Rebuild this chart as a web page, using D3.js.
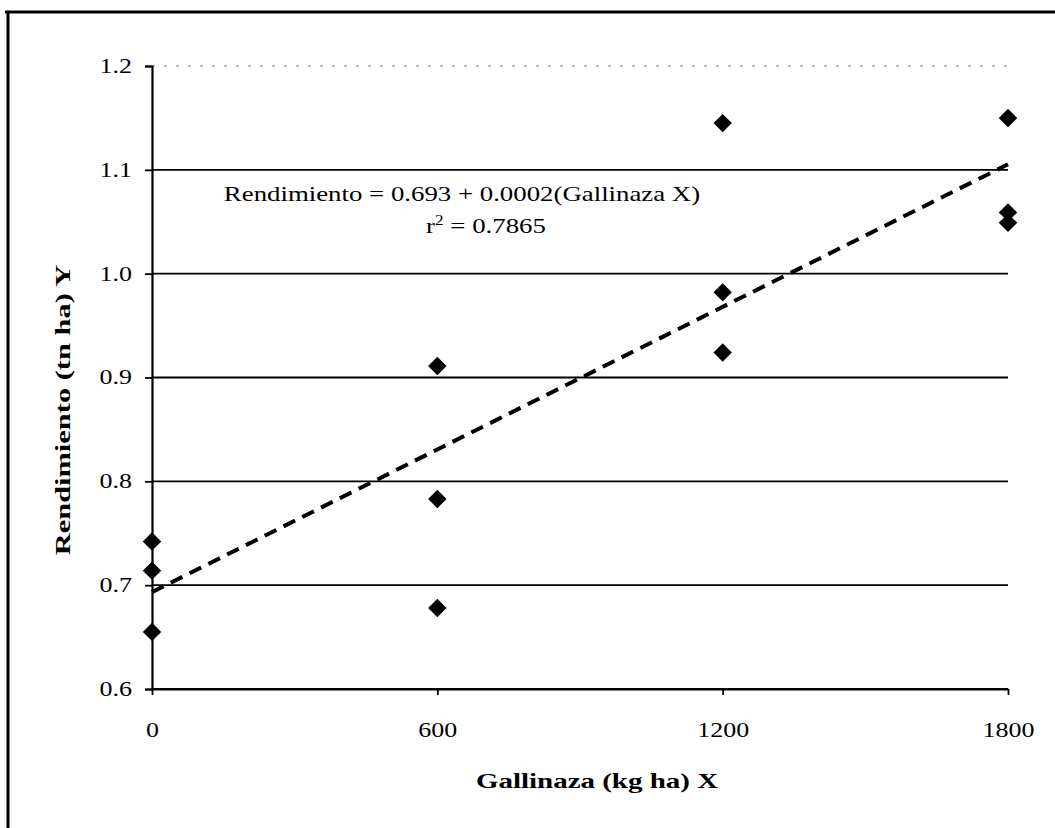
<!DOCTYPE html>
<html>
<head>
<meta charset="utf-8">
<script src="https://cdn.jsdelivr.net/npm/d3@7"></script>
<style>
  body { margin: 0; background: #fff; }
  text { font-family: "Liberation Serif", "Times New Roman", serif; fill: #000; }
</style>
</head>
<body>
<svg id="chart" width="1055" height="828"></svg>
<script>
// data
var gallinaza = [0, 0, 0, 600, 600, 600, 1200, 1200, 1200, 1800, 1800, 1800];
var rendimiento = [0.742, 0.714, 0.655, 0.911, 0.783, 0.678, 1.145, 0.982, 0.924, 1.150, 1.059, 1.049];
var xTicks = [0, 600, 1200, 1800];
var yTicks = [0.6, 0.7, 0.8, 0.9, 1.0, 1.1, 1.2];
var eqLine1 = "Rendimiento = 0.693 + 0.0002(Gallinaza X)";
var eqLine2 = "0.7865";

var width = 1055,
    height = 828;

// the scanned type is wider than plain Times, so stretch it a bit
var stretch = 1.3;

var svg = d3.select('#chart');

// outer frame (top + left only, like the scan)
svg.append("line").attr("x1", 5).attr("x2", 1055).attr("y1", 12).attr("y2", 12)
    .style("stroke", "#000").style("stroke-width", "3px");
svg.append("line").attr("x1", 8).attr("x2", 8).attr("y1", 11).attr("y2", 828)
    .style("stroke", "#000").style("stroke-width", "3px");

var x = d3.scaleLinear().domain([0, 1800]).range([152, 1008]);
var y = d3.scaleLinear().domain([0.6, 1.2]).range([689, 66]);

// horizontal gridlines
svg.append("g").selectAll("line")
    .data(yTicks)
    .enter().append("line")
    .attr("x1", x(0))
    .attr("x2", x(1800))
    .attr("y1", function(d) { return y(d); })
    .attr("y2", function(d) { return y(d); })
    .style("stroke", function(d) { return d === 1.2 ? "#bbb" : "#000"; })
    .style("stroke-dasharray", function(d) { return d === 1.2 ? "3,9" : null; })
    .style("stroke-width", "1.8px");

// y axis
var yAxis = svg.append("g")
    .attr("transform", "translate(" + x(0) + ",0)")
    .call(d3.axisLeft(y).tickValues(yTicks).tickSize(7).tickFormat(d3.format(".1f")));
yAxis.select(".domain").style("stroke-width", "2.2px");
yAxis.selectAll(".tick line").style("stroke-width", "1.8px");
yAxis.selectAll(".tick text")
    .attr("x", 0)
    .attr("transform", "translate(-20,0) scale(" + stretch + ",1)")
    .style("font-size", "20px")
    .style("font-family", "Liberation Serif");

// x axis
var xAxis = svg.append("g")
    .attr("transform", "translate(0," + y(0.6) + ")")
    .call(d3.axisBottom(x).tickValues(xTicks).tickSize(6).tickSizeOuter(0).tickFormat(d3.format("d")));
xAxis.select(".domain").style("stroke-width", "2.2px");
xAxis.selectAll(".tick line").style("stroke-width", "1.8px");
xAxis.selectAll(".tick text")
    .attr("y", 0)
    .attr("transform", "translate(0,34) scale(" + stretch + ",1)")
    .style("font-size", "20px")
    .style("font-family", "Liberation Serif");

// regression line fitted from the points
var mx = d3.mean(gallinaza),
    my = d3.mean(rendimiento);
var sxy = d3.sum(gallinaza, function(v, i) { return (v - mx) * (rendimiento[i] - my); });
var sxx = d3.sum(gallinaza, function(v) { return (v - mx) * (v - mx); });
var slope = sxy / sxx,
    intercept = my - slope * mx;

svg.append("line")
    .attr("x1", x(0))
    .attr("y1", y(intercept))
    .attr("x2", x(1800))
    .attr("y2", y(intercept + slope * 1800))
    .style("stroke", "#000")
    .style("stroke-width", "4px")
    .style("stroke-dasharray", "13,8");

// points
var diamond = d3.symbol().type(d3.symbolSquare).size(170);
svg.append("g").selectAll("path")
    .data(gallinaza)
    .enter().append("path")
    .attr("d", diamond)
    .attr("transform", function(d, i) {
        return "translate(" + x(d) + "," + y(rendimiento[i]) + ") rotate(45)";
    })
    .style("fill", "#000");

// equation
svg.append("text")
    .attr("transform", "translate(462,201) scale(1.22,1)")
    .attr("text-anchor", "middle")
    .style("font-size", "22px")
    .text(eqLine1);

var r2 = svg.append("text")
    .attr("transform", "translate(486,233) scale(1.22,1)")
    .attr("text-anchor", "middle")
    .style("font-size", "22px");
r2.append("tspan").text("r");
r2.append("tspan").attr("dy", -8).style("font-size", "14px").text("2");
r2.append("tspan").attr("dy", 8).text(" = " + eqLine2);

// axis titles
svg.append("text")
    .attr("transform", "translate(597,788) scale(1.38,1)")
    .attr("text-anchor", "middle")
    .style("font-size", "21px")
    .style("font-weight", "bold")
    .text("Gallinaza (kg ha) X");

svg.append("text")
    .attr("transform", "translate(70,410) rotate(-90) scale(1.45,1)")
    .attr("text-anchor", "middle")
    .style("font-size", "21px")
    .style("font-weight", "bold")
    .text("Rendimiento (tn ha) Y");
</script>
</body>
</html>
